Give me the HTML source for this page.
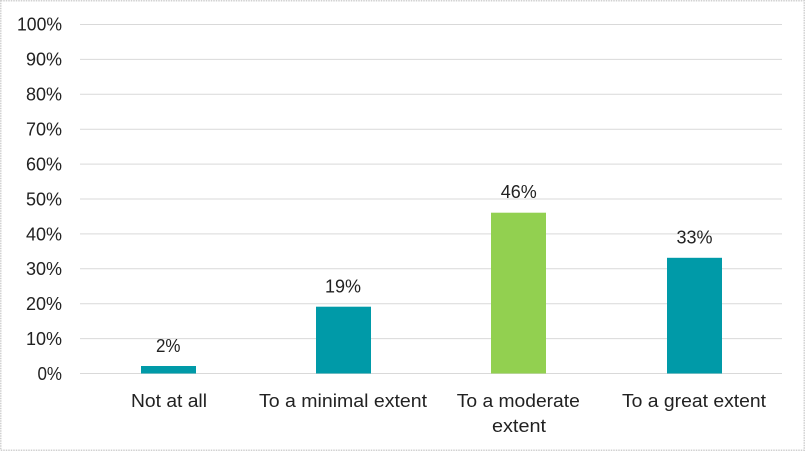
<!DOCTYPE html>
<html>
<head>
<meta charset="utf-8">
<style>
  html, body { margin: 0; padding: 0; background: #ffffff; }
  svg { display: block; }
  text { font-family: "Liberation Sans", Arial, sans-serif; font-size: 18.5px; fill: #222222; }
</style>
</head>
<body>
<svg width="806" height="452" viewBox="0 0 806 452" xmlns="http://www.w3.org/2000/svg">
  <rect x="0" y="0" width="806" height="452" fill="#ffffff"/>
  <rect x="0.75" y="0.75" width="803.5" height="449.5" fill="#ffffff" stroke="#d0d0d0" stroke-width="1.5" stroke-dasharray="1.5 1"/>

  <!-- gridlines -->
  <g stroke="#d9d9d9" stroke-width="1">
    <line x1="80" x2="782" y1="24.5" y2="24.5"/>
    <line x1="80" x2="782" y1="59.4" y2="59.4"/>
    <line x1="80" x2="782" y1="94.3" y2="94.3"/>
    <line x1="80" x2="782" y1="129.2" y2="129.2"/>
    <line x1="80" x2="782" y1="164.1" y2="164.1"/>
    <line x1="80" x2="782" y1="199" y2="199"/>
    <line x1="80" x2="782" y1="233.9" y2="233.9"/>
    <line x1="80" x2="782" y1="268.8" y2="268.8"/>
    <line x1="80" x2="782" y1="303.7" y2="303.7"/>
    <line x1="80" x2="782" y1="338.6" y2="338.6"/>
    <line x1="80" x2="782" y1="373.5" y2="373.5"/>
  </g>

  <!-- y labels -->
  <g text-anchor="end">
    <text x="62" y="30.5" textLength="45" lengthAdjust="spacingAndGlyphs">100%</text>
    <text x="62" y="65.5" textLength="36" lengthAdjust="spacingAndGlyphs">90%</text>
    <text x="62" y="100.5" textLength="36" lengthAdjust="spacingAndGlyphs">80%</text>
    <text x="62" y="135.5" textLength="36" lengthAdjust="spacingAndGlyphs">70%</text>
    <text x="62" y="170.5" textLength="36" lengthAdjust="spacingAndGlyphs">60%</text>
    <text x="62" y="205.5" textLength="36" lengthAdjust="spacingAndGlyphs">50%</text>
    <text x="62" y="240.5" textLength="36" lengthAdjust="spacingAndGlyphs">40%</text>
    <text x="62" y="275" textLength="36" lengthAdjust="spacingAndGlyphs">30%</text>
    <text x="62" y="310" textLength="36" lengthAdjust="spacingAndGlyphs">20%</text>
    <text x="62" y="345" textLength="36" lengthAdjust="spacingAndGlyphs">10%</text>
    <text x="62" y="380" textLength="24.5" lengthAdjust="spacingAndGlyphs">0%</text>
  </g>

  <!-- bars -->
  <rect x="141" y="366" width="55" height="7.5" fill="#009AA8"/>
  <rect x="316" y="306.7" width="55" height="66.8" fill="#009AA8"/>
  <rect x="491" y="212.7" width="55" height="160.8" fill="#92D050"/>
  <rect x="667" y="257.8" width="55" height="115.7" fill="#009AA8"/>

  <!-- data labels -->
  <g text-anchor="middle">
    <text x="168.2" y="352" textLength="24.5" lengthAdjust="spacingAndGlyphs">2%</text>
    <text x="343" y="292.7" textLength="36" lengthAdjust="spacingAndGlyphs">19%</text>
    <text x="518.7" y="198.2" textLength="36" lengthAdjust="spacingAndGlyphs">46%</text>
    <text x="694.5" y="243.7" textLength="36" lengthAdjust="spacingAndGlyphs">33%</text>
  </g>

  <!-- category labels -->
  <g text-anchor="middle">
    <text x="169" y="407" textLength="76" lengthAdjust="spacingAndGlyphs">Not at all</text>
    <text x="343" y="407" textLength="168" lengthAdjust="spacingAndGlyphs">To a minimal extent</text>
    <text x="518.3" y="407" textLength="123" lengthAdjust="spacingAndGlyphs">To a moderate</text>
    <text x="519" y="432" textLength="54" lengthAdjust="spacingAndGlyphs">extent</text>
    <text x="694" y="407" textLength="144" lengthAdjust="spacingAndGlyphs">To a great extent</text>
  </g>
</svg>
</body>
</html>
